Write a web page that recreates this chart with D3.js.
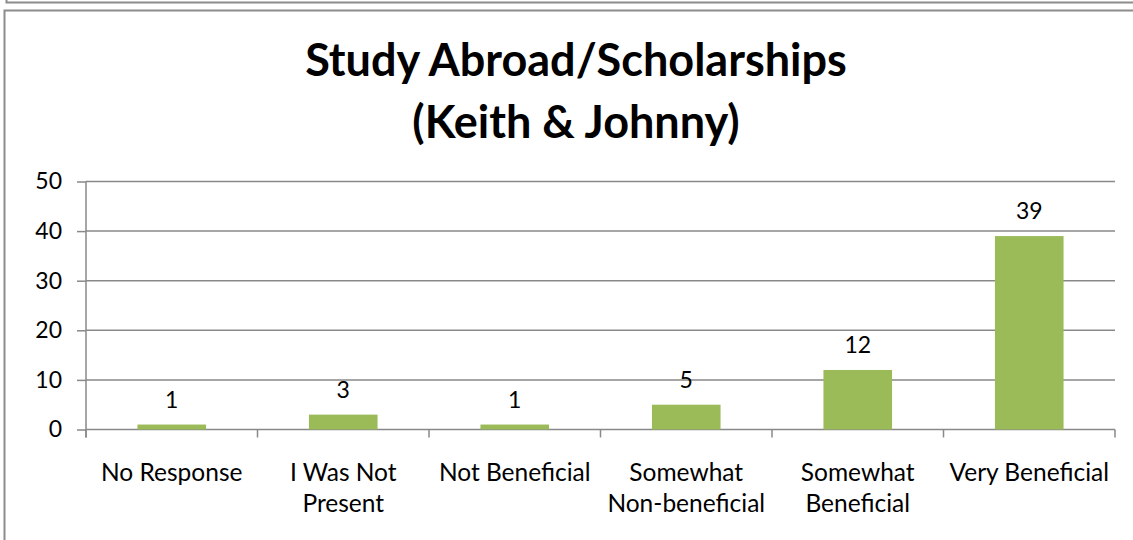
<!DOCTYPE html>
<html>
<head>
<meta charset="utf-8">
<script src="https://cdn.jsdelivr.net/npm/d3@7"></script>
<style>
  body { margin: 0; background: #fff; }
  svg { display: block; font-family: Lato, "Open Sans", sans-serif; }
</style>
</head>
<body>
<div id="chart"></div>
<script>
// Data
const categories = [
    ['No Response'],
    ['I Was Not', 'Present'],
    ['Not Beneficial'],
    ['Somewhat', 'Non-beneficial'],
    ['Somewhat', 'Beneficial'],
    ['Very Beneficial']
];
const counts = [1, 3, 1, 5, 12, 39];
const yTicks = [0, 10, 20, 30, 40, 50];
const titleLines = ['Study Abroad/Scholarships', '(Keith & Johnny)'];

const chart = {
    totalWidth: 1133,
    totalHeight: 540,
    left: 86,
    right: 1115,
    top: 181.5,
    bottom: 429.5
};

const gridColor = '#898989';
const barColor = '#9bbb59';

const svg = d3.select('#chart')
    .append('svg')
    .attr('width', chart.totalWidth)
    .attr('height', chart.totalHeight);

// Frame of the previous chart (peeking at the top) and this chart's frame
svg.append('path')
    .attr('d', `M6.5,0 V2.5 H${chart.totalWidth + 5}`)
    .attr('fill', 'none')
    .attr('stroke', '#8c8c8c')
    .attr('stroke-width', 2);

svg.append('rect')
    .attr('x', 4.5)
    .attr('y', 10.5)
    .attr('width', chart.totalWidth + 20)
    .attr('height', chart.totalHeight + 20)
    .attr('fill', 'none')
    .attr('stroke', '#8c8c8c')
    .attr('stroke-width', 2);

// Title
svg.append('text')
    .attr('text-anchor', 'middle')
    .attr('font-weight', 'bold')
    .attr('font-size', 45)
    .attr('fill', '#000')
    .selectAll('tspan')
    .data(titleLines)
    .join('tspan')
    .attr('x', 576)
    .attr('y', (d, i) => 76 + i * 62)
    .text(d => d);

// Scales
const xScale = d3.scaleBand()
    .domain(d3.range(categories.length))
    .range([chart.left, chart.right])
    .paddingInner(0.6)
    .paddingOuter(0.3);

const yScale = d3.scaleLinear()
    .domain([0, 50])
    .range([chart.bottom, chart.top]);

// Gridlines
svg.append('g')
    .selectAll('line')
    .data(yTicks.filter(d => d > 0))
    .join('line')
    .attr('x1', chart.left)
    .attr('x2', chart.right)
    .attr('y1', d => yScale(d))
    .attr('y2', d => yScale(d))
    .attr('stroke', gridColor)
    .attr('stroke-width', 1.5);

// Y-axis
const yAxis = d3.axisLeft(yScale)
    .tickValues(yTicks)
    .tickSize(9)
    .tickPadding(15);

const yG = svg.append('g')
    .attr('transform', `translate(${chart.left}, 0)`)
    .call(yAxis);
yG.select('.domain').remove();
yG.selectAll('.tick line').attr('stroke', gridColor).attr('stroke-width', 1.5);
yG.selectAll('.tick text')
    .attr('font-family', 'Lato, sans-serif')
    .attr('font-size', 23)
    .attr('fill', '#000');

svg.append('line')
    .attr('x1', chart.left).attr('x2', chart.left)
    .attr('y1', chart.top).attr('y2', chart.bottom + 8)
    .attr('stroke', gridColor)
    .attr('stroke-width', 1.5);

// X-axis line and category ticks
const step = xScale.step();
svg.append('line')
    .attr('x1', chart.left).attr('x2', chart.right)
    .attr('y1', chart.bottom).attr('y2', chart.bottom)
    .attr('stroke', gridColor)
    .attr('stroke-width', 1.5);

svg.append('g')
    .selectAll('line')
    .data(d3.range(categories.length + 1))
    .join('line')
    .attr('x1', i => chart.left + i * step)
    .attr('x2', i => chart.left + i * step)
    .attr('y1', chart.bottom)
    .attr('y2', chart.bottom + 8)
    .attr('stroke', gridColor)
    .attr('stroke-width', 1.5);

// Bars
svg.append('g')
    .selectAll('rect')
    .data(counts)
    .join('rect')
    .attr('x', (d, i) => xScale(i))
    .attr('width', xScale.bandwidth())
    .attr('y', d => yScale(d))
    .attr('height', d => yScale(0) - yScale(d))
    .attr('fill', barColor);

// Data labels
svg.append('g')
    .selectAll('text')
    .data(counts)
    .join('text')
    .attr('x', (d, i) => xScale(i) + xScale.bandwidth() / 2)
    .attr('y', d => yScale(d) - 17)
    .attr('text-anchor', 'middle')
    .attr('font-size', 23)
    .attr('fill', '#000')
    .text(d => d);

// Category labels
svg.append('g')
    .selectAll('text')
    .data(categories)
    .join('text')
    .attr('text-anchor', 'middle')
    .attr('font-size', 24.5)
    .attr('fill', '#000')
    .selectAll('tspan')
    .data((d, i) => d.map(line => ({ line, i })))
    .join('tspan')
    .attr('x', d => xScale(d.i) + xScale.bandwidth() / 2)
    .attr('y', (d, j) => 481 + j * 31)
    .text(d => d.line);
</script>
</body>
</html>
